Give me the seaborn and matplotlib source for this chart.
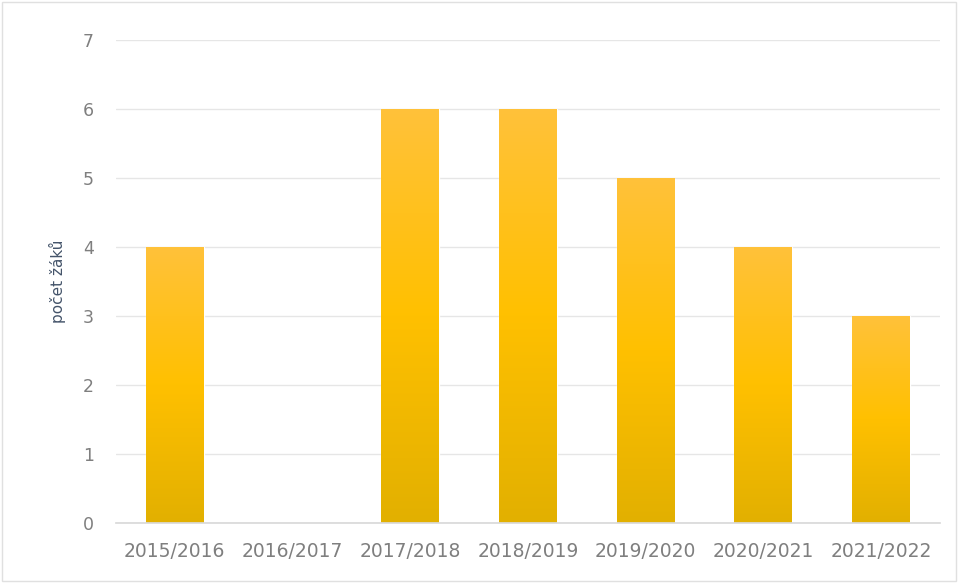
import matplotlib
matplotlib.use("Agg")
import matplotlib.pyplot as plt
import seaborn as sns
import numpy as np
import pandas as pd
from matplotlib.colors import LinearSegmentedColormap

categories = ["2015/2016", "2016/2017", "2017/2018", "2018/2019", "2019/2020", "2020/2021", "2021/2022"]
values = [4, 0, 6, 6, 5, 4, 3]
y_ticks = [0, 1, 2, 3, 4, 5, 6, 7]
y_label = "počet žáků"

sns.set_theme(style="white")
plt.rcParams['font.family'] = ['DejaVu Sans']

df = pd.DataFrame({"rok": categories, "pocet": values})

fig = plt.figure(figsize=(9.58, 5.83), dpi=100)
ax = fig.add_axes([0.121, 0.103, 0.86, 0.828])
sns.barplot(data=df, x="rok", y="pocet", color="#FFC000", width=0.49, ax=ax, saturation=1)

ax.set_ylim(0, 7)
ax.set_xlim(-0.5, 6.5)
ax.set_yticks(y_ticks)
ax.yaxis.grid(True, color="#E6E6E6", linewidth=1)
ax.set_axisbelow(True)
for s in ["top", "right", "left"]:
    ax.spines[s].set_visible(False)
ax.spines["bottom"].set_color("#D9D9D9")
ax.tick_params(axis="both", length=0, colors="#7F7F7F")
ax.tick_params(axis="x", pad=14, labelsize=13.5)
ax.tick_params(axis="y", pad=16, labelsize=12.5)
ax.set_xlabel("")
ax.set_ylabel(y_label, color="#44546A", fontsize=11, labelpad=12)

cmap = LinearSegmentedColormap.from_list("g", ["#E2B000", "#FFC000", "#FFC23A"])
grad = np.linspace(0, 1, 256).reshape(-1, 1)
for p in ax.patches:
    h = p.get_height()
    if h <= 0:
        continue
    x0 = p.get_x(); w = p.get_width()
    im = ax.imshow(grad, extent=[x0, x0 + w, 0, h], origin="lower", aspect="auto",
                   cmap=cmap, zorder=p.get_zorder() + 0.1)
    im.set_clip_path(p)
ax.set_xlim(-0.5, 6.5)
ax.set_ylim(0, 7)

fig.patches.append(plt.Rectangle((0.002, 0.004), 0.996, 0.992, transform=fig.transFigure,
                                 fill=False, edgecolor="#E0E0E0", linewidth=1))
fig.savefig("out.png", dpi=100)
